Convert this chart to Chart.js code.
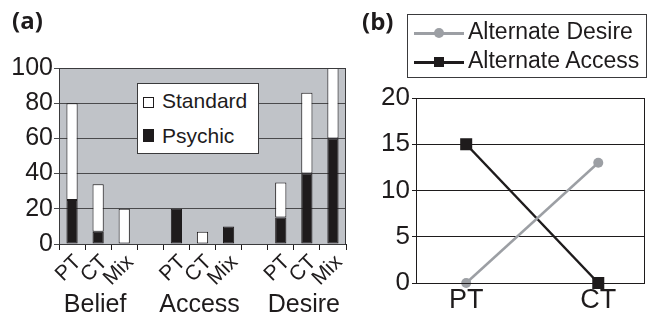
<!DOCTYPE html>
<html>
<head>
<meta charset="utf-8">
<script src="https://cdn.jsdelivr.net/npm/chart.js@4.4.0/dist/chart.umd.min.js"></script>
<style>
body { margin: 0; background: #fff; }
#wrap { position: relative; width: 653px; height: 316px; overflow: hidden; font-family: "Liberation Sans", Arial, sans-serif; color: #1e1b1c; }
canvas { position: absolute; top: 0; }
.panel { position: absolute; font-family: "Open Sans", sans-serif; font-weight: 700; font-size: 24px; line-height: 24px; }
.legend { position: absolute; background: #fff; border: 1px solid #3a3a3c; box-sizing: border-box; }
.item { position: absolute; white-space: nowrap; }
.sym { position: absolute; box-sizing: border-box; }
</style>
</head>
<body>
<div id="wrap">
  <canvas id="barChart" width="352" height="316" style="left:0"></canvas>
  <canvas id="lineChart" width="301" height="316" style="left:352px"></canvas>
  <div class="panel" style="left:12px; top:8px">(a)</div>
  <div class="panel" style="left:362px; top:9px">(b)</div>
  <div class="legend" id="legendA" style="left:137px; top:83px; width:122px; height:71px"></div>
  <div class="legend" id="legendB" style="left:407px; top:14px; width:240px; height:64px"></div>
</div>
<script>
// panel (a): stacked bars, three groups with a blank slot between them
var barLabels = ['PT', 'CT', 'Mix', '', 'PT', 'CT', 'Mix', '', 'PT', 'CT', 'Mix'];
var groupNames = ['Belief', 'Access', 'Desire'];
var groupIndex = [1, 5, 9];
var psychic = [25, 7, null, null, 20, null, 10, null, 15, 40, 60];
var standard = [55, 27, 20, null, null, 7, null, null, 20, 46, 40];

// panel (b): two lines
var lineLabels = ['PT', 'CT'];
var desire = [0, 13];
var access = [15, 0];

var ink = '#1e1b1c';
var font = '"Liberation Sans", Arial, sans-serif';

// fill plot area and draw a frame round it
var plotFrame = {
  id: 'plotFrame',
  beforeDraw: function (chart, args, opts) {
    var a = chart.chartArea, ctx = chart.ctx;
    if (opts.fill) {
      ctx.save();
      ctx.fillStyle = opts.fill;
      ctx.fillRect(a.left, a.top, a.right - a.left, a.bottom - a.top);
      ctx.restore();
    }
  },
  afterDatasetsDraw: function (chart, args, opts) {
    var a = chart.chartArea, ctx = chart.ctx;
    ctx.save();
    ctx.strokeStyle = opts.stroke || ink;
    ctx.lineWidth = 1;
    ctx.strokeRect(Math.round(a.left) + 0.5, Math.round(a.top) + 0.5, Math.round(a.right - a.left) - 1, Math.round(a.bottom - a.top));
    ctx.restore();
  }
};

// group names under the rotated tick labels
var groupLabels = {
  id: 'groupLabels',
  afterDraw: function (chart) {
    var x = chart.scales.x, ctx = chart.ctx;
    ctx.save();
    ctx.font = '25px ' + font;
    ctx.fillStyle = ink;
    ctx.textAlign = 'center';
    ctx.textBaseline = 'alphabetic';
    groupNames.forEach(function (name, i) {
      ctx.fillText(name, x.getPixelForValue(groupIndex[i]) - 3, 312);
    });
    ctx.restore();
  }
};

Chart.defaults.font.family = font;
Chart.defaults.color = ink;

new Chart(document.getElementById('barChart'), {
  type: 'bar',
  data: {
    labels: barLabels,
    datasets: [
      { label: 'Psychic', data: psychic, backgroundColor: ink, borderColor: ink, borderWidth: 1, borderSkipped: false },
      { label: 'Standard', data: standard, backgroundColor: '#ffffff', borderColor: ink, borderWidth: 1, borderSkipped: false }
    ]
  },
  options: {
    responsive: false,
    animation: false,
    barPercentage: 0.43,
    categoryPercentage: 1,
    layout: { padding: { top: 68, right: 6, left: 0, bottom: 0 } },
    plugins: {
      legend: { display: false },
      tooltip: { enabled: false },
      plotFrame: { fill: '#c0c3c8', stroke: '#3a3a3c' }
    },
    scales: {
      x: {
        stacked: true,
        grid: { offset: true, drawOnChartArea: false, color: ink, tickLength: 6 },
        border: { color: ink },
        ticks: { autoSkip: false, minRotation: 45, maxRotation: 45, font: { size: 21 }, padding: 0, labelOffset: 6 },
        afterFit: function (s) { s.height = 72; }
      },
      y: {
        stacked: true,
        min: 0,
        max: 100,
        ticks: { stepSize: 20, font: { size: 25 }, padding: 1 },
        grid: { color: '#4a4a4c', tickLength: 5 },
        border: { color: ink },
        afterFit: function (s) { s.width = 59; }
      }
    }
  },
  plugins: [plotFrame, groupLabels]
});

function toPoints(arr) {
  return arr.map(function (v, i) { return { x: i, y: v }; });
}

new Chart(document.getElementById('lineChart'), {
  type: 'line',
  data: {
    datasets: [
      { label: 'Alternate Desire', data: toPoints(desire), borderColor: '#9c9fa4', backgroundColor: '#9c9fa4',
        borderWidth: 2.5, pointStyle: 'circle', pointRadius: 5, pointBorderWidth: 0, clip: false },
      { label: 'Alternate Access', data: toPoints(access), borderColor: ink, backgroundColor: ink,
        borderWidth: 2.5, pointStyle: 'rect', pointRadius: 8.5, pointBorderWidth: 0, clip: false }
    ]
  },
  options: {
    responsive: false,
    animation: false,
    layout: { padding: { top: 98, right: 5, left: 0, bottom: 0 } },
    plugins: {
      legend: { display: false },
      tooltip: { enabled: false },
      plotFrame: { stroke: ink }
    },
    scales: {
      x: {
        type: 'linear',
        min: -0.38,
        max: 1.35,
        afterBuildTicks: function (s) {
          s.ticks = lineLabels.map(function (l, i) { return { value: i }; });
        },
        ticks: { font: { size: 27 }, padding: 1, callback: function (v, i) { return lineLabels[i]; } },
        grid: { display: false, drawTicks: false },
        border: { color: ink },
        afterFit: function (s) { s.height = 33; }
      },
      y: {
        min: 0,
        max: 20,
        ticks: { stepSize: 5, font: { size: 26 }, padding: 2 },
        grid: { color: ink, tickLength: 4 },
        border: { color: ink },
        afterFit: function (s) { s.width = 64; }
      }
    }
  },
  plugins: [plotFrame]
});

// html legends
var legendA = [
  { name: 'Standard', fill: '#fff', sym: 'left:5px; top:13px; width:11px; height:11px; border:1px solid #1e1b1c' },
  { name: 'Psychic', fill: ink, sym: 'left:5px; top:45px; width:11px; height:13px' }
];
var legendB = [
  { name: 'Alternate Desire', color: '#9c9fa4', round: true },
  { name: 'Alternate Access', color: ink, round: false }
];

var boxA = document.getElementById('legendA');
legendA.forEach(function (d, i) {
  boxA.innerHTML += '<div class="sym" style="background:' + d.fill + ';' + d.sym + '"></div>' +
    '<div class="item" style="left:24px; top:' + (5 + i * 35) + 'px; font-size:21px; line-height:24px">' + d.name + '</div>';
});

var boxB = document.getElementById('legendB');
legendB.forEach(function (d, i) {
  var cy = 18 + i * 29;
  boxB.innerHTML += '<div class="sym" style="left:6px; top:' + (cy - 1) + 'px; width:50px; height:3px; background:' + d.color + '"></div>' +
    '<div class="sym" style="left:26px; top:' + (cy - 5) + 'px; width:10px; height:10px; background:' + d.color +
    (d.round ? '; border-radius:50%' : '') + '"></div>' +
    '<div class="item" style="left:60px; top:' + (cy - 15) + 'px; font-size:23px; line-height:26px">' + d.name + '</div>';
});
</script>
</body>
</html>
